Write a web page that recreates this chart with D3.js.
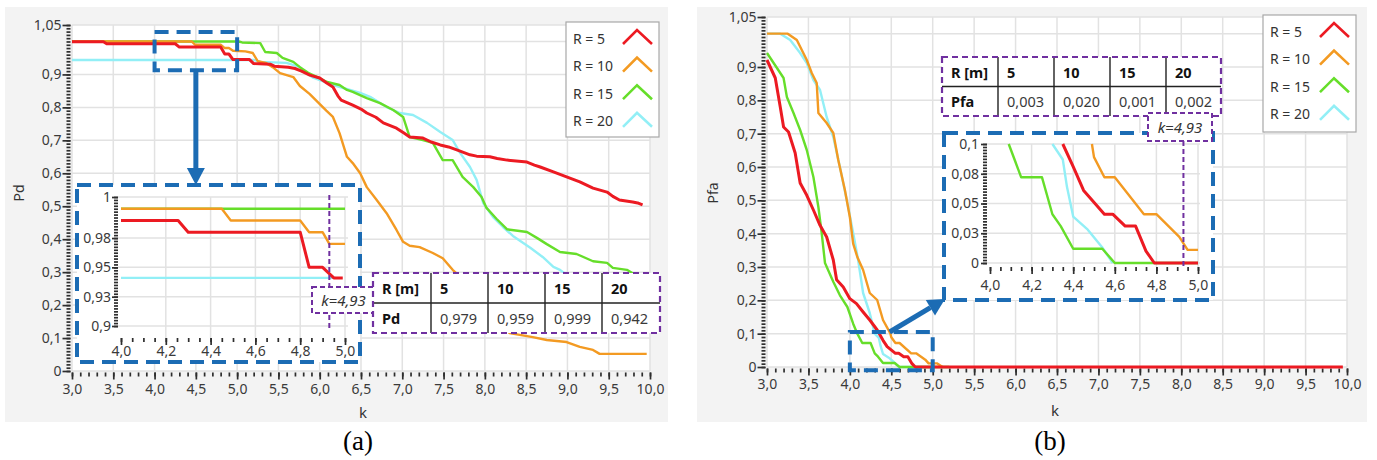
<!DOCTYPE html>
<html>
<head>
<meta charset="utf-8">
<script src="https://cdn.jsdelivr.net/npm/d3@7"></script>
<style>
  body { margin: 0; background: #fff; }
  text { font-family: "Noto Sans", sans-serif; }
</style>
</head>
<body>
<svg id="chart" width="1377" height="460"></svg>
<script>
const seriesNames = ["R = 5", "R = 10", "R = 15", "R = 20"];
const seriesColors = ["#ec1a22", "#f39a22", "#66de2a", "#92eff6"];

const kTicks = [3, 3.5, 4, 4.5, 5, 5.5, 6, 6.5, 7, 7.5, 8, 8.5, 9, 9.5, 10];
const kTickLabels = ["3,0", "3,5", "4,0", "4,5", "5,0", "5,5", "6,0", "6,5", "7,0", "7,5", "8,0", "8,5", "9,0", "9,5", "10,0"];
const pTicks = [0, 0.1, 0.2, 0.3, 0.4, 0.5, 0.6, 0.7, 0.8, 0.9, 1.05];
const pTickLabels = ["0", "0,1", "0,2", "0,3", "0,4", "0,5", "0,6", "0,7", "0,8", "0,9", "1,05"];
const pGrid = [0, 0.1, 0.2, 0.3, 0.4, 0.5, 0.6, 0.7, 0.8, 0.9, 1, 1.05];

const zoomKTicks = [4, 4.2, 4.4, 4.6, 4.8, 5];
const zoomKLabels = ["4,0", "4,2", "4,4", "4,6", "4,8", "5,0"];
const zoomPdTicks = [0.9, 0.925, 0.95, 0.975, 1.01];
const zoomPdLabels = ["0,9", "0,93", "0,95", "0,98", "1"];
const zoomPfaTicks = [0, 0.025, 0.05, 0.075, 0.1];
const zoomPfaLabels = ["0", "0,03", "0,05", "0,08", "0,1"];

// (a) Pd vs k
const pdR5 = [[3.0, 0.999], [3.38, 0.999], [3.42, 0.993], [4.25, 0.993], [4.3, 0.983], [4.8, 0.983], [4.85, 0.962], [4.9, 0.962], [4.95, 0.945], [5.15, 0.945], [5.2, 0.933], [5.4, 0.931], [5.45, 0.925], [5.62, 0.922], [5.7, 0.918], [5.78, 0.91], [5.88, 0.898], [6.0, 0.889], [6.08, 0.875], [6.16, 0.862], [6.22, 0.835], [6.26, 0.822], [6.4, 0.807], [6.5, 0.795], [6.57, 0.783], [6.68, 0.77], [6.77, 0.753], [6.93, 0.737], [7.02, 0.722], [7.09, 0.71], [7.25, 0.707], [7.35, 0.695], [7.46, 0.686], [7.56, 0.68], [7.66, 0.671], [7.82, 0.656], [7.9, 0.652], [8.06, 0.65], [8.15, 0.645], [8.27, 0.64], [8.51, 0.634], [8.6, 0.625], [8.67, 0.619], [8.83, 0.604], [8.99, 0.589], [9.15, 0.574], [9.31, 0.555], [9.48, 0.543], [9.55, 0.53], [9.63, 0.519], [9.79, 0.513], [9.85, 0.51], [9.91, 0.504]];
const pdR10 = [[3.0, 1.0], [4.45, 1.0], [4.49, 0.99], [4.8, 0.99], [4.85, 0.98], [4.9, 0.98], [4.95, 0.972], [5.1, 0.97], [5.19, 0.965], [5.25, 0.94], [5.35, 0.935], [5.43, 0.922], [5.52, 0.904], [5.68, 0.892], [5.76, 0.865], [5.88, 0.84], [5.98, 0.815], [6.08, 0.79], [6.16, 0.771], [6.24, 0.722], [6.33, 0.65], [6.4, 0.631], [6.49, 0.6], [6.57, 0.558], [6.69, 0.519], [6.81, 0.479], [6.93, 0.428], [7.01, 0.392], [7.09, 0.38], [7.21, 0.376], [7.37, 0.358], [7.49, 0.342], [7.61, 0.307], [7.9, 0.24], [8.1, 0.17], [8.3, 0.115], [8.58, 0.103], [8.75, 0.094], [8.99, 0.088], [9.15, 0.073], [9.31, 0.064], [9.39, 0.052], [9.96, 0.052]];
const pdR15 = [[3.0, 1.0], [5.02, 1.0], [5.06, 0.997], [5.28, 0.995], [5.34, 0.968], [5.48, 0.965], [5.55, 0.95], [5.68, 0.938], [5.76, 0.922], [5.86, 0.905], [5.97, 0.892], [6.09, 0.877], [6.24, 0.868], [6.33, 0.853], [6.4, 0.847], [6.57, 0.828], [6.73, 0.813], [6.89, 0.792], [7.01, 0.771], [7.09, 0.71], [7.25, 0.701], [7.37, 0.692], [7.49, 0.64], [7.61, 0.64], [7.73, 0.589], [7.86, 0.558], [7.96, 0.528], [8.02, 0.495], [8.14, 0.462], [8.27, 0.43], [8.42, 0.425], [8.51, 0.422], [8.63, 0.404], [8.75, 0.385], [8.91, 0.361], [9.11, 0.355], [9.31, 0.333], [9.48, 0.328], [9.55, 0.313], [9.72, 0.307], [9.8, 0.295], [9.95, 0.29]];
const pdR20 = [[3.0, 0.944], [5.2, 0.944], [5.28, 0.938], [5.6, 0.935], [5.76, 0.922], [5.84, 0.904], [5.92, 0.89], [6.16, 0.868], [6.49, 0.844], [6.61, 0.832], [6.81, 0.801], [6.97, 0.783], [7.13, 0.777], [7.3, 0.753], [7.46, 0.725], [7.61, 0.701], [7.7, 0.662], [7.82, 0.619], [7.9, 0.58], [7.98, 0.51], [8.1, 0.467], [8.22, 0.437], [8.34, 0.41], [8.55, 0.374], [8.7, 0.346], [8.83, 0.316], [8.91, 0.307], [9.0, 0.29], [9.1, 0.27]];

// (a) zoom, k 4..5
const zoomPdR5 = [[4.0, 0.99], [4.255, 0.99], [4.3, 0.98], [4.8, 0.98], [4.84, 0.95], [4.9, 0.95], [4.95, 0.941], [4.99, 0.941]];
const zoomPdR10 = [[4.0, 1.0], [4.45, 1.0], [4.49, 0.99], [4.8, 0.99], [4.84, 0.98], [4.9, 0.98], [4.93, 0.97], [5.0, 0.97]];
const zoomPdR15 = [[4.0, 1.0], [5.0, 1.0]];
const zoomPdR20 = [[4.0, 0.941], [4.96, 0.941]];

// (b) Pfa vs k
const pfaR5 = [[3.0, 0.921], [3.1, 0.867], [3.16, 0.78], [3.2, 0.72], [3.26, 0.705], [3.34, 0.642], [3.4, 0.552], [3.48, 0.515], [3.56, 0.471], [3.64, 0.425], [3.72, 0.39], [3.8, 0.321], [3.84, 0.262], [3.92, 0.24], [4.0, 0.205], [4.08, 0.19], [4.16, 0.165], [4.24, 0.141], [4.33, 0.111], [4.4, 0.08], [4.45, 0.061], [4.55, 0.041], [4.59, 0.041], [4.65, 0.031], [4.7, 0.031], [4.75, 0.01], [4.79, 0.0], [9.95, 0.0]];
const pfaR10 = [[3.0, 1.0], [3.25, 1.0], [3.36, 0.981], [3.48, 0.921], [3.54, 0.882], [3.6, 0.852], [3.62, 0.762], [3.72, 0.732], [3.8, 0.702], [3.86, 0.621], [3.94, 0.531], [4.0, 0.45], [4.04, 0.37], [4.09, 0.33], [4.16, 0.291], [4.24, 0.222], [4.33, 0.201], [4.4, 0.141], [4.49, 0.1], [4.5, 0.089], [4.55, 0.072], [4.6, 0.072], [4.74, 0.041], [4.8, 0.041], [4.91, 0.022], [4.95, 0.011], [5.05, 0.011], [5.12, 0.0]];
const pfaR15 = [[3.0, 0.942], [3.08, 0.912], [3.2, 0.867], [3.24, 0.81], [3.32, 0.762], [3.4, 0.711], [3.48, 0.651], [3.56, 0.57], [3.62, 0.48], [3.66, 0.402], [3.7, 0.312], [3.8, 0.256], [3.88, 0.215], [3.97, 0.18], [4.04, 0.13], [4.09, 0.1], [4.15, 0.072], [4.25, 0.072], [4.3, 0.041], [4.34, 0.031], [4.4, 0.012], [4.54, 0.012], [4.6, 0.0], [5.2, 0.0]];
const pfaR20 = [[3.0, 1.0], [3.16, 1.0], [3.28, 0.981], [3.4, 0.942], [3.48, 0.912], [3.56, 0.861], [3.64, 0.831], [3.72, 0.75], [3.8, 0.69], [3.88, 0.6], [3.97, 0.492], [4.04, 0.402], [4.1, 0.321], [4.16, 0.222], [4.24, 0.162], [4.3, 0.1], [4.35, 0.087], [4.37, 0.064], [4.4, 0.039], [4.47, 0.028], [4.54, 0.013], [4.59, 0.0], [5.0, 0.0]];

// (b) zoom, k 4..5
const zoomPfaR5 = [[4.35, 0.1], [4.4, 0.081], [4.45, 0.061], [4.55, 0.041], [4.59, 0.041], [4.65, 0.031], [4.7, 0.031], [4.75, 0.01], [4.79, 0.0], [5.0, 0.0]];
const zoomPfaR10 = [[4.49, 0.1], [4.5, 0.089], [4.55, 0.072], [4.6, 0.072], [4.74, 0.041], [4.8, 0.041], [4.91, 0.022], [4.95, 0.011], [5.0, 0.011]];
const zoomPfaR15 = [[4.09, 0.1], [4.15, 0.072], [4.25, 0.072], [4.3, 0.041], [4.34, 0.031], [4.4, 0.012], [4.54, 0.012], [4.6, 0.0], [5.0, 0.0]];
const zoomPfaR20 = [[4.3, 0.1], [4.35, 0.087], [4.37, 0.064], [4.4, 0.039], [4.47, 0.028], [4.54, 0.013], [4.59, 0.0]];

const tableHead = ["R [m]", "5", "10", "15", "20"];
const pdRow = ["Pd", "0,979", "0,959", "0,999", "0,942"];
const pfaRow = ["Pfa", "0,003", "0,020", "0,001", "0,002"];
const kMark = 4.93;

const blue = "#1c6cb4";
const purple = "#7030a0";
const svg = d3.select("#chart");

function grid(g, x, y, xs, ys, x0, x1, y0, y1) {
  g.append("g").selectAll("line").data(xs).join("line")
    .attr("x1", (d) => x(d)).attr("x2", (d) => x(d))
    .attr("y1", y0).attr("y2", y1)
    .attr("stroke", "#e2e2e2").attr("stroke-width", 1.5);
  g.append("g").selectAll("line").data(ys).join("line")
    .attr("y1", (d) => y(d)).attr("y2", (d) => y(d))
    .attr("x1", x0).attr("x2", x1)
    .attr("stroke", "#e2e2e2").attr("stroke-width", 1.5);
}

function axes(g, x, y, o) {
  const gy = g.append("g").attr("transform", `translate(${o.left},0)`);
  gy.append("g").call(d3.axisLeft(y).tickValues(o.yMinor).tickSize(4).tickFormat(""));
  gy.append("g").call(d3.axisLeft(y).tickValues(o.yTicks).tickSize(o.yTick).tickPadding(o.yPad)
    .tickFormat((d) => o.yLabels[o.yTicks.indexOf(d)]));
  const gx = g.append("g").attr("transform", `translate(0,${o.bottom})`);
  gx.append("g").call(d3.axisBottom(x).tickValues(o.xMinor).tickSize(4).tickFormat(""));
  gx.append("g").call(d3.axisBottom(x).tickValues(o.xTicks).tickSize(7).tickPadding(o.xPad)
    .tickFormat((d) => o.xLabels[o.xTicks.indexOf(d)]));
  g.selectAll(".domain").remove();
  g.selectAll(".tick line").attr("stroke", "#2e2e2e").attr("stroke-width", 1.7);
  g.selectAll(".tick text").attr("fill", "#3a3a3a")
    .style("font-family", "'Noto Sans', sans-serif").style("font-size", "14px");
}

function curves(g, x, y, series) {
  const line = d3.line().x((d) => x(d[0])).y((d) => y(d[1]));
  g.append("g").selectAll("path").data([3, 2, 1, 0]).join("path")
    .attr("d", (i) => line(series[i]))
    .attr("fill", "none")
    .attr("stroke", (i) => seriesColors[i])
    .attr("stroke-width", (i) => (i === 0 ? 3 : 2.4))
    .attr("stroke-linejoin", "round");
}

function legend(g, x0, y0, h) {
  const lg = g.append("g").attr("transform", `translate(${x0},${y0})`);
  lg.append("rect").attr("width", 93).attr("height", h)
    .attr("fill", "#fff").attr("stroke", "#a8a8a8").attr("stroke-width", 1.2);
  const row = lg.selectAll("g").data(seriesNames).join("g")
    .attr("transform", (_, i) => `translate(7,${16 + i * 27.6})`);
  row.append("text").text((d) => d).attr("dominant-baseline", "central")
    .attr("fill", "#333").style("font-size", "14px");
  row.append("polyline").attr("points", "50,6 64,-8 79,6")
    .attr("fill", "none").attr("stroke", (_, i) => seriesColors[i]).attr("stroke-width", 2.6);
}

function dashedBox(g, x0, y0, x1, y1, fill) {
  g.append("rect").attr("x", x0).attr("y", y0).attr("width", x1 - x0).attr("height", y1 - y0)
    .attr("fill", fill).attr("stroke", blue).attr("stroke-width", 4).attr("stroke-dasharray", "14 8");
}

function arrow(g, x1, y1, x2, y2) {
  const len = Math.hypot(x2 - x1, y2 - y1);
  const ux = (x2 - x1) / len, uy = (y2 - y1) / len;
  const bx = x2 - ux * 17, by = y2 - uy * 17;
  g.append("line").attr("x1", x1).attr("y1", y1).attr("x2", bx).attr("y2", by)
    .attr("stroke", blue).attr("stroke-width", 5);
  g.append("polygon")
    .attr("points", [[x2, y2], [bx - uy * 9, by + ux * 9], [bx + uy * 9, by - ux * 9]].join(" "))
    .attr("fill", blue);
}

function kLabel(g, x0, y0, w, h) {
  g.append("rect").attr("x", x0).attr("y", y0).attr("width", w).attr("height", h)
    .attr("fill", "#fff").attr("stroke", purple).attr("stroke-width", 2).attr("stroke-dasharray", "5 3");
  g.append("text").attr("x", x0 + w / 2).attr("y", y0 + h / 2)
    .attr("text-anchor", "middle").attr("dominant-baseline", "central")
    .attr("fill", "#333").style("font-size", "15px").style("font-style", "italic")
    .text("k=4,93");
}

function table(g, x0, y0, colW, rowH, rows) {
  const xs = [x0, ...d3.cumsum(colW).map((d) => x0 + d)];
  const w = d3.sum(colW);
  g.append("rect").attr("x", x0).attr("y", y0).attr("width", w).attr("height", rowH * 2).attr("fill", "#fff");
  rows.forEach((row, r) => {
    g.append("g").selectAll("text").data(row).join("text")
      .attr("x", (_, c) => xs[c] + 9)
      .attr("y", y0 + rowH * (r + 0.5))
      .attr("dominant-baseline", "central")
      .attr("fill", (_, c) => (r === 0 || c === 0 ? "#111" : "#3a3a3a"))
      .style("font-size", "14.5px")
      .style("font-weight", (_, c) => (r === 0 || c === 0 ? "bold" : "normal"))
      .text((d) => d);
  });
  g.append("line").attr("x1", x0).attr("x2", x0 + w).attr("y1", y0 + rowH).attr("y2", y0 + rowH)
    .attr("stroke", "#222").attr("stroke-width", 1.4);
  g.append("g").selectAll("line").data(xs.slice(1, -1)).join("line")
    .attr("x1", (d) => d).attr("x2", (d) => d).attr("y1", y0).attr("y2", y0 + rowH * 2)
    .attr("stroke", "#222").attr("stroke-width", 1.4);
  g.append("rect").attr("x", x0).attr("y", y0).attr("width", w).attr("height", rowH * 2)
    .attr("fill", "none").attr("stroke", purple).attr("stroke-width", 2.2).attr("stroke-dasharray", "6 4");
}

function panel(o) {
  const g = svg.append("g");
  g.append("rect").attr("x", o.bg[0]).attr("y", 7).attr("width", o.bg[1] - o.bg[0]).attr("height", 415)
    .attr("fill", "#f3f3f3");
  const x = d3.scaleLinear().domain([3, 10]).range(o.xr);
  const y = d3.scaleLinear().domain([0, 1.05]).range(o.yr);
  g.append("rect").attr("x", x(3)).attr("y", y(1.05)).attr("width", x(10) - x(3)).attr("height", y(0) - y(1.05))
    .attr("fill", "#fff");
  grid(g, x, y, kTicks, pGrid, x(3), x(10), y(0), y(1.05));
  axes(g, x, y, {
    left: x(3) - 1.5, bottom: y(0) + 1.5,
    yMinor: d3.range(0, 1.0501, 0.01), yTicks: pTicks, yLabels: pTickLabels, yTick: 8, yPad: 1,
    xMinor: d3.range(3, 10.001, 0.1), xTicks: kTicks, xLabels: kTickLabels, xPad: o.xPad,
  });
  g.append("text").attr("transform", `translate(${o.yTitle[0]},${o.yTitle[1]}) rotate(-90)`)
    .attr("text-anchor", "middle").attr("dominant-baseline", "central")
    .attr("fill", "#333").style("font-size", "14px").text(o.yName);
  g.append("text").attr("x", o.kTitle[0]).attr("y", o.kTitle[1])
    .attr("text-anchor", "middle").attr("dominant-baseline", "central")
    .attr("fill", "#333").style("font-size", "15px").text("k");
  curves(g, x, y, o.series);
  legend(g, o.legend[0], o.legend[1], o.legend[2]);
  g.append("text").attr("x", o.caption[0]).attr("y", o.caption[1]).attr("text-anchor", "middle")
    .attr("fill", "#000").style("font-family", "'Liberation Serif', serif").style("font-size", "27px")
    .text(o.captionText);
  return { g, x, y };
}

// ---------- (a)
const A = panel({
  bg: [5, 668], xr: [72, 650], yr: [371, 25], xPad: 5,
  yName: "Pd", yTitle: [18, 193], kTitle: [363, 412],
  series: [pdR5, pdR10, pdR15, pdR20],
  legend: [566, 22, 115], caption: [358, 450], captionText: "(a)",
});
dashedBox(A.g, A.x(4), A.y(1.029), A.x(5), A.y(0.913), "none");
arrow(A.g, A.x(4.5), A.y(0.913), A.x(4.5), 185);

{
  const g = A.g.append("g");
  dashedBox(g, 77, 185, 360, 362, "#fff");
  const ix = d3.scaleLinear().domain([4, 5]).range([121, 345]);
  const iy = d3.scaleLinear().domain([0.9, 1.01]).range([326, 197]);
  grid(g, ix, iy, zoomKTicks.slice(1), zoomPdTicks, 118, 348, 338, 197);
  axes(g, ix, iy, {
    left: 118, bottom: 338,
    yMinor: d3.range(0.9, 1.0101, 0.0025), yTicks: zoomPdTicks, yLabels: zoomPdLabels, yTick: 6, yPad: 1,
    xMinor: d3.range(4, 5.001, 0.05), xTicks: zoomKTicks, xLabels: zoomKLabels, xPad: 1,
  });
  curves(g, ix, iy, [zoomPdR5, zoomPdR10, zoomPdR15, zoomPdR20]);
  g.append("line").attr("x1", ix(kMark)).attr("x2", ix(kMark)).attr("y1", 195).attr("y2", 329)
    .attr("stroke", purple).attr("stroke-width", 2).attr("stroke-dasharray", "5 3");
  kLabel(g, 312, 287, 63, 26);
  table(g, 373, 273, [58, 57, 57, 57, 58], 30, [tableHead, pdRow]);
}

// ---------- (b)
const B = panel({
  bg: [697, 1367], xr: [767, 1347], yr: [367, 17], xPad: 4,
  yName: "Pfa", yTitle: [712, 193], kTitle: [1055, 410],
  series: [pfaR5, pfaR10, pfaR15, pfaR20],
  legend: [1263, 15, 117], caption: [1050, 450], captionText: "(b)",
});
dashedBox(B.g, B.x(4), B.y(0.105), B.x(5), B.y(-0.01), "none");
arrow(B.g, B.x(4.48), B.y(0.105), 945, 299);

{
  const g = B.g.append("g");
  table(g, 942, 57, [56, 56, 56, 56, 55], 29.5, [tableHead, pfaRow]);
  dashedBox(g, 944, 133, 1213, 300, "#fff");
  const ix = d3.scaleLinear().domain([4, 5]).range([990, 1198]);
  const iy = d3.scaleLinear().domain([0, 0.1]).range([263, 144]);
  grid(g, ix, iy, zoomKTicks.slice(1), zoomPfaTicks, 987, 1200, 267, 144);
  axes(g, ix, iy, {
    left: 987, bottom: 267,
    yMinor: d3.range(0, 0.1001, 0.0025), yTicks: zoomPfaTicks, yLabels: zoomPfaLabels, yTick: 6, yPad: 2,
    xMinor: d3.range(4, 5.001, 0.05), xTicks: zoomKTicks, xLabels: zoomKLabels, xPad: 6,
  });
  curves(g, ix, iy, [zoomPfaR5, zoomPfaR10, zoomPfaR15, zoomPfaR20]);
  g.append("line").attr("x1", ix(kMark)).attr("x2", ix(kMark)).attr("y1", 141).attr("y2", 268)
    .attr("stroke", purple).attr("stroke-width", 2).attr("stroke-dasharray", "5 3");
  kLabel(g, 1148, 113, 64, 28);
}
</script>
</body>
</html>
